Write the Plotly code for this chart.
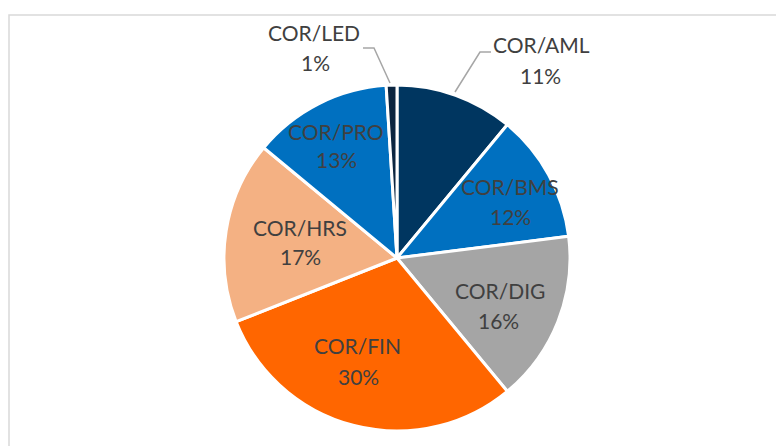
import plotly.graph_objects as go

W, H = 776, 446

categories = ["COR/AML", "COR/BMS", "COR/DIG", "COR/FIN", "COR/HRS", "COR/PRO", "COR/LED"]
values = [11, 12, 16, 30, 17, 13, 1]
colors = ["#003660", "#0070C0", "#A5A5A5", "#FF6600", "#F4B183", "#0070C0", "#0B2540"]

# label centres in pixels (name line, percent line)
label_pos = {
    "COR/AML": ((541, 45), (540, 75)),
    "COR/BMS": ((510, 186), (510, 216)),
    "COR/DIG": ((500, 290), (498, 320)),
    "COR/FIN": ((357, 345), (358, 376)),
    "COR/HRS": ((300, 227), (300, 256)),
    "COR/PRO": ((336, 131), (336, 160)),
    "COR/LED": ((314, 33), (315, 63)),
}

cx, cy, r = 397, 258, 173


def px(x):
    return x / W


def py(y):
    return 1 - y / H


fig = go.Figure(go.Pie(
    labels=categories,
    values=values,
    sort=False,
    direction="clockwise",
    rotation=0,
    marker=dict(colors=colors, line=dict(color="white", width=3)),
    textinfo="none",
    hoverinfo="label+percent",
    domain=dict(x=[px(cx - r), px(cx + r)], y=[py(cy + r), py(cy - r)]),
    showlegend=False,
))

total = sum(values)
font = dict(family="Lato, 'Open Sans', sans-serif", size=21, color="#404040")
anns = []
for cat, v in zip(categories, values):
    (nx, ny), (qx, qy) = label_pos[cat]
    anns.append(dict(x=px(nx), y=py(ny), xref="paper", yref="paper", text=cat,
                     showarrow=False, font=font, xanchor="center", yanchor="middle"))
    anns.append(dict(x=px(qx), y=py(qy), xref="paper", yref="paper",
                     text=f"{round(100 * v / total)}%",
                     showarrow=False, font=font, xanchor="center", yanchor="middle"))


def path(points):
    return "M " + " L ".join(f"{px(x)},{py(y)}" for x, y in points)


shapes = [
    # chart border
    dict(type="rect", xref="paper", yref="paper", x0=px(9), x1=1.05, y0=-0.05, y1=py(15),
         line=dict(color="#D9D9D9", width=1.5), fillcolor="rgba(0,0,0,0)", layer="below"),
    # leader lines
    dict(type="path", xref="paper", yref="paper", path=path([(390, 83), (374, 48), (363, 48)]),
         line=dict(color="#A6A6A6", width=1.5)),
    dict(type="path", xref="paper", yref="paper", path=path([(455, 92), (480, 52), (491, 52)]),
         line=dict(color="#A6A6A6", width=1.5)),
]

fig.update_layout(
    width=W, height=H, autosize=False,
    margin=dict(l=0, r=0, t=0, b=0),
    paper_bgcolor="white", plot_bgcolor="white",
    annotations=anns, shapes=shapes,
)

fig.write_html("out.html", config={"displayModeBar": False},
               post_script="document.body.style.margin='0';document.body.style.overflow='hidden';")
